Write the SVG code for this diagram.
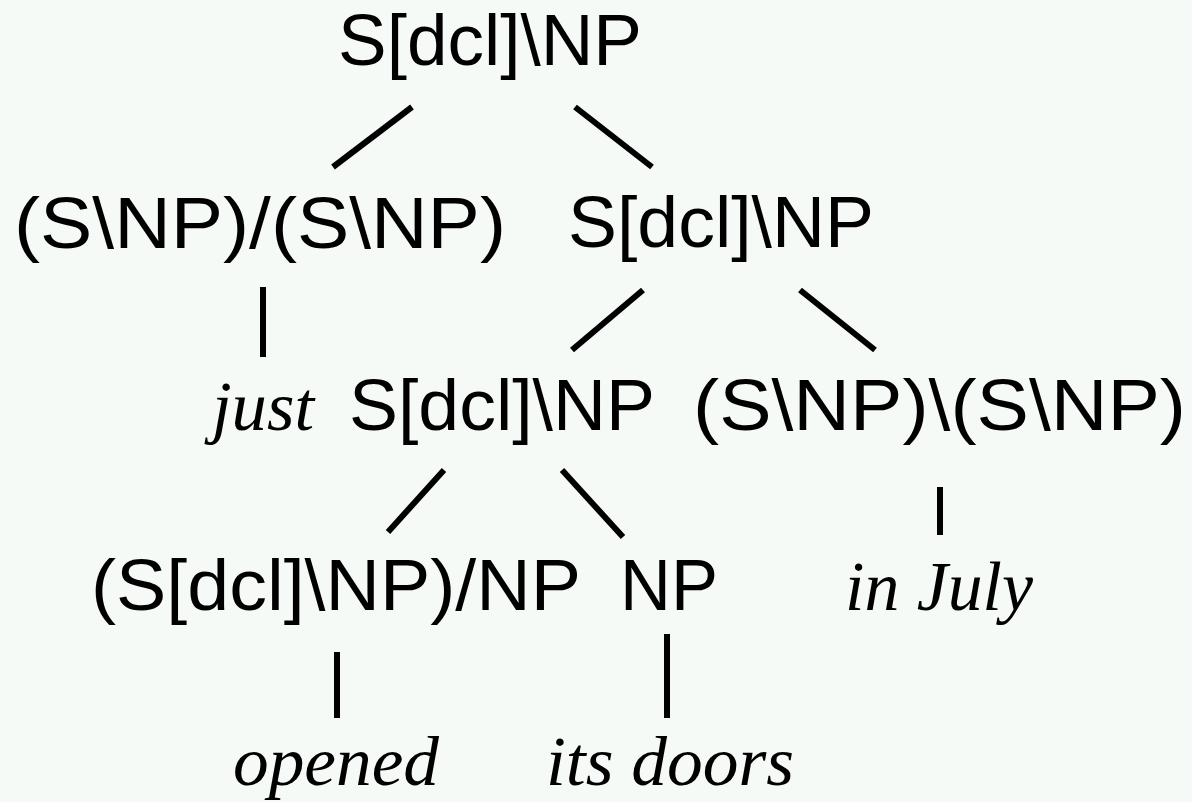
<svg xmlns="http://www.w3.org/2000/svg" width="1192" height="802" viewBox="0 0 1192 802">
<style>
.cat{font-family:"Liberation Sans",Arial,sans-serif;font-size:72px;fill:#000}
.word{font-family:"Liberation Serif","Times New Roman",serif;font-style:italic;font-size:70px;fill:#000}
.edge{stroke:#000;stroke-width:6;fill:none}
</style>
<rect width="1192" height="802" fill="#f6faf7"/>
<g id="connectors">
<line class="edge" x1="412" y1="107" x2="333" y2="167"/>
<line class="edge" x1="575" y1="107" x2="652" y2="167"/>
<line class="edge" x1="263" y1="287" x2="263" y2="357"/>
<line class="edge" x1="643" y1="290" x2="572" y2="350"/>
<line class="edge" x1="800" y1="290" x2="875" y2="350"/>
<line class="edge" x1="444" y1="470" x2="388" y2="532"/>
<line class="edge" x1="562" y1="470" x2="623" y2="537"/>
<line class="edge" x1="940" y1="487" x2="940" y2="535"/>
<line class="edge" x1="337" y1="652" x2="337" y2="718"/>
<line class="edge" x1="667" y1="634" x2="667" y2="718"/>
</g>
<g id="n_root"><text class="cat" x="338" y="65" textLength="304" lengthAdjust="spacingAndGlyphs">S[dcl]\NP</text></g>
<g id="n_adv"><text class="cat" x="14" y="248" textLength="492" lengthAdjust="spacingAndGlyphs">(S\NP)/(S\NP)</text></g>
<g id="n_vp1"><text class="cat" x="568" y="247" textLength="306" lengthAdjust="spacingAndGlyphs">S[dcl]\NP</text></g>
<g id="n_just"><text class="word" x="212" y="430" textLength="102" lengthAdjust="spacingAndGlyphs">just</text></g>
<g id="n_vp2"><text class="cat" x="349" y="430" textLength="306" lengthAdjust="spacingAndGlyphs">S[dcl]\NP</text></g>
<g id="n_mod"><text class="cat" x="693" y="430" textLength="493" lengthAdjust="spacingAndGlyphs">(S\NP)\(S\NP)</text></g>
<g id="n_verb"><text class="cat" x="91" y="610" textLength="490" lengthAdjust="spacingAndGlyphs">(S[dcl]\NP)/NP</text></g>
<g id="n_np"><text class="cat" x="620" y="610" textLength="98" lengthAdjust="spacingAndGlyphs">NP</text></g>
<g id="n_inJuly"><text class="word" x="845" y="610" textLength="188" lengthAdjust="spacingAndGlyphs">in July</text></g>
<g id="n_opened"><text class="word" x="233" y="785" textLength="206" lengthAdjust="spacingAndGlyphs">opened</text></g>
<g id="n_doors"><text class="word" x="546" y="785" textLength="248" lengthAdjust="spacingAndGlyphs">its doors</text></g>
</svg>
